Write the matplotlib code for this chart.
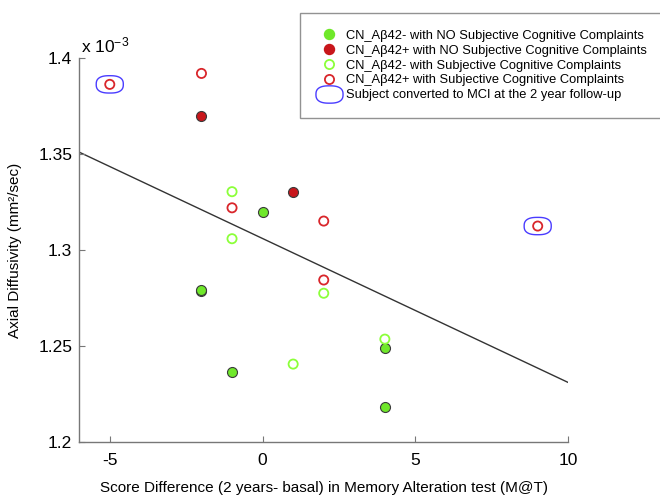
import matplotlib
matplotlib.use("Agg")
import matplotlib.pyplot as plt
import numpy as np
from matplotlib.lines import Line2D
from matplotlib.path import Path

plt.rcParams["font.family"] = ["Liberation Sans", "DejaVu Sans"]
plt.rcParams["mathtext.default"] = "regular"
plt.rcParams["axes.unicode_minus"] = False

# score difference (M@T) and axial diffusivity (x 1e-3 mm2/sec) per group
neg_noscc_x = [0, -2, -2, 4, -1, 4]
neg_noscc_y = [1.3198, 1.2786, 1.2790, 1.2491, 1.2366, 1.2182]
pos_noscc_x = [-2, 1]
pos_noscc_y = [1.3698, 1.3304]
neg_scc_x = [-1, -1, 2, 4, 1]
neg_scc_y = [1.3304, 1.3059, 1.2775, 1.2536, 1.2406]
pos_scc_x = [-5, -2, -1, 2, 2, 9]
pos_scc_y = [1.3863, 1.3920, 1.3220, 1.3151, 1.2844, 1.3125]
# converted to MCI at follow-up
mci_x = [-5, 9]
mci_y = [1.3863, 1.3125]
# regression line end points
fit_x = [-6, 10]
fit_y = [1.351, 1.231]

labels = [
    "CN_A\u03b242- with NO Subjective Cognitive Complaints",
    "CN_A\u03b242+ with NO Subjective Cognitive Complaints",
    "CN_A\u03b242- with Subjective Cognitive Complaints",
    "CN_A\u03b242+ with Subjective Cognitive Complaints",
    "Subject converted to MCI at the 2 year follow-up",
]

green = "#6fe82a"
green_open = "#8cff3a"
red = "#c8161b"
red_open = "#d9262b"
blue = "#4a3cff"

# rounded-box marker for the MCI converters
t = np.linspace(0, 2 * np.pi, 120)
n = 2.6
ex = np.sign(np.cos(t)) * np.abs(np.cos(t)) ** (2 / n)
ey = 0.64 * np.sign(np.sin(t)) * np.abs(np.sin(t)) ** (2 / n)
mci_marker = Path(np.column_stack([ex, ey]), closed=True)

fig = plt.figure(figsize=(6.6, 4.98), dpi=100)
ax = fig.add_axes([0.120, 0.1124, 0.741, 0.771])

ax.plot(fit_x, fit_y, color="#333333", lw=1.0, zorder=1)

ms = 7.2
ax.scatter(neg_noscc_x, neg_noscc_y, s=ms ** 2, c=green, edgecolors="#3a3a3a",
           linewidths=0.8, zorder=3)
ax.scatter(pos_noscc_x, pos_noscc_y, s=ms ** 2, c=red, edgecolors="#3a3a3a",
           linewidths=0.8, zorder=3)
ax.scatter(neg_scc_x, neg_scc_y, s=(ms - 0.6) ** 2, facecolors="none",
           edgecolors=green_open, linewidths=1.3, zorder=3)
ax.scatter(pos_scc_x, pos_scc_y, s=(ms - 0.6) ** 2, facecolors="none",
           edgecolors=red_open, linewidths=1.3, zorder=3)
ax.scatter(mci_x, mci_y, s=19.5 ** 2, marker=mci_marker, facecolors="none",
           edgecolors=blue, linewidths=1.0, zorder=2)

ax.set_xlim(-6, 10)
ax.set_ylim(1.2, 1.4)
ax.set_xticks([-5, 0, 5, 10])
ax.set_yticks([1.2, 1.25, 1.3, 1.35, 1.4])
ax.set_yticklabels(["1.2", "1.25", "1.3", "1.35", "1.4"])

for side in ["top", "right"]:
    ax.spines[side].set_visible(False)
for side in ["left", "bottom"]:
    ax.spines[side].set_color("#777777")
    ax.spines[side].set_linewidth(1.0)
ax.tick_params(direction="in", length=4, width=0.8, color="#777777",
               labelsize=12.5, labelcolor="black")
ax.tick_params(axis="x", pad=8)
ax.tick_params(axis="y", pad=5)

ax.set_xlabel("Score Difference (2 years- basal) in Memory Alteration test (M@T)",
              fontsize=11, labelpad=9)
ax.set_ylabel("Axial Diffusivity (mm\u00b2/sec)", fontsize=11, labelpad=12)
ax.text(0.003, 1.016, "x 10$^{-3}$", transform=ax.transAxes, fontsize=12.5,
        va="baseline", ha="left")

handles = [
    Line2D([], [], ls="none", marker="o", ms=ms, mfc=green, mec=green),
    Line2D([], [], ls="none", marker="o", ms=ms, mfc=red, mec=red),
    Line2D([], [], ls="none", marker="o", ms=ms - 0.6, mfc="none", mec=green_open, mew=1.3),
    Line2D([], [], ls="none", marker="o", ms=ms - 0.6, mfc="none", mec=red_open, mew=1.3),
    Line2D([], [], ls="none", marker=mci_marker, ms=19.5, mfc="none", mec=blue, mew=1.0),
]
leg = fig.legend(handles, labels, loc="upper left",
                 bbox_to_anchor=(300 / 660, 1 - 13 / 498, 0.6, 0.0), mode="expand",
                 fontsize=9.3, frameon=True, fancybox=False, borderpad=1.3,
                 handlelength=1.9, handletextpad=0.35, labelspacing=0.22,
                 borderaxespad=0)
leg.get_frame().set_edgecolor("#777777")
leg.get_frame().set_linewidth(1.0)

fig.savefig("out.png", dpi=100)
